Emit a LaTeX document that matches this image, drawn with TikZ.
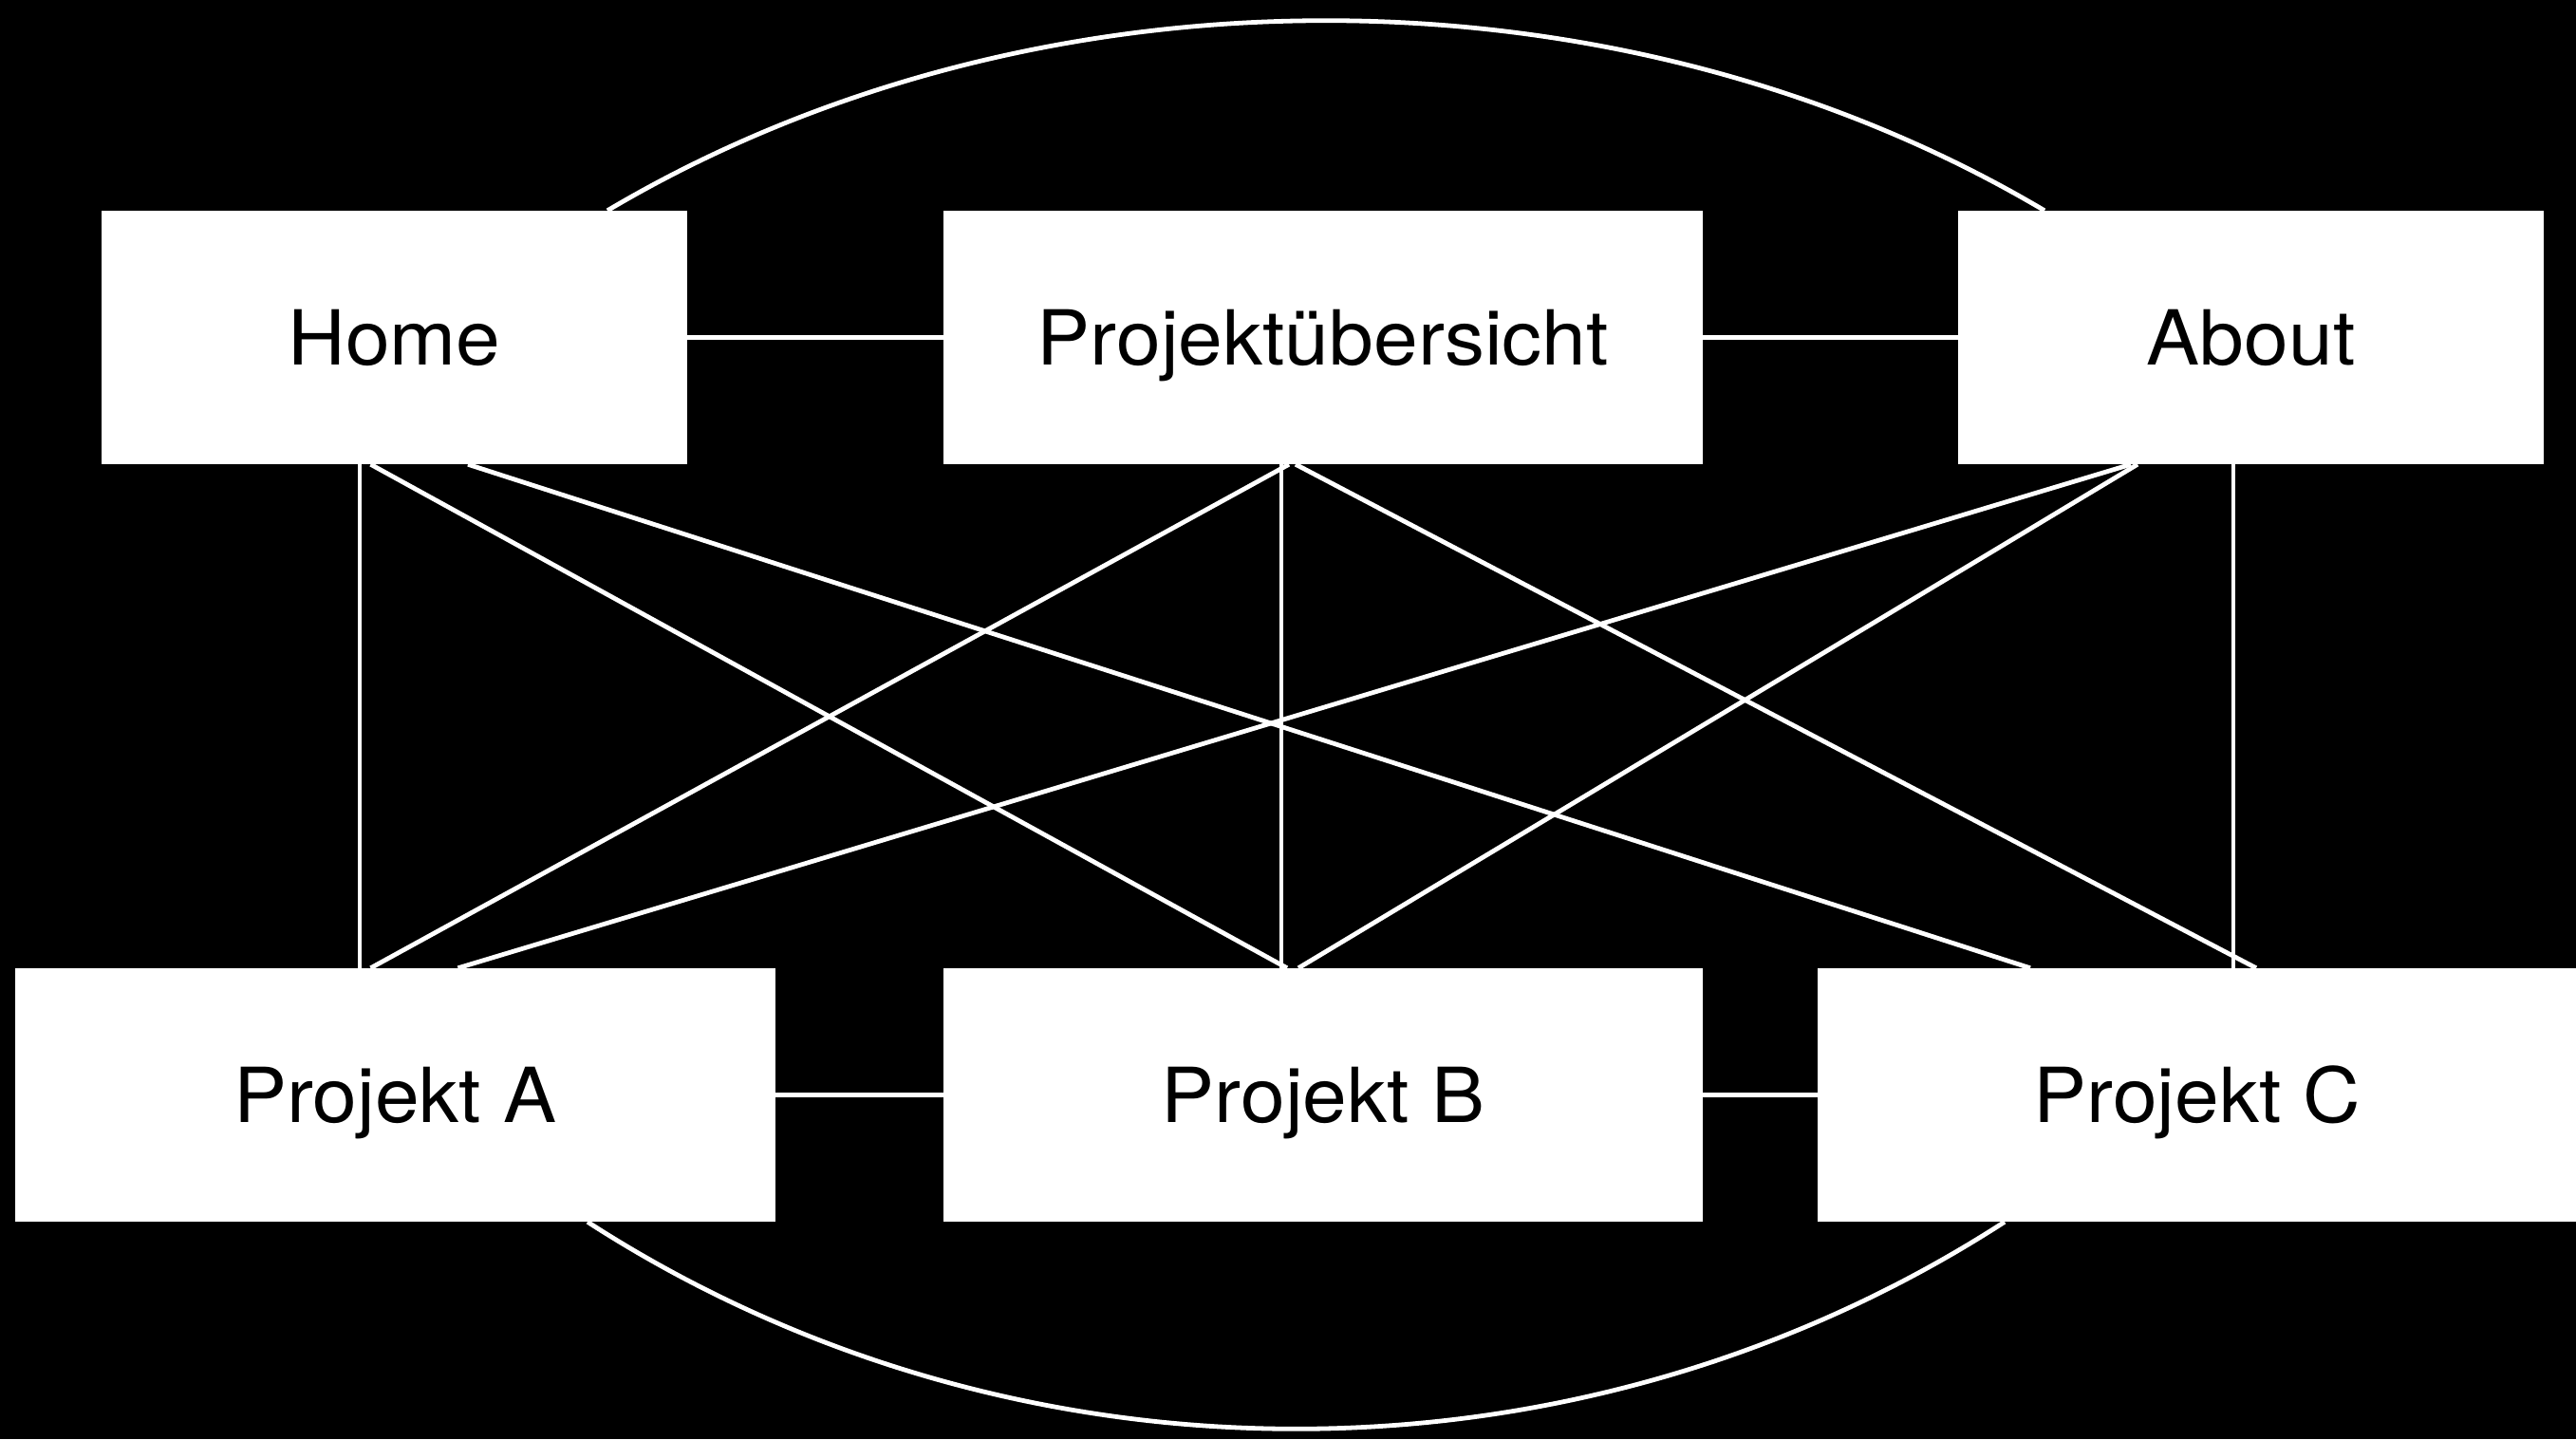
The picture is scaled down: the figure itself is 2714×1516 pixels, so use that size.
\documentclass[tikz,border=0pt]{standalone}
\usepackage{fontspec}
\setmainfont[FakeStretch=1.05]{TeX Gyre Heros}
\begin{document}
\begin{tikzpicture}[x=1pt,y=-1pt,
  page/.style={fill=white, draw=none, inner sep=0pt, minimum height=267pt,
    text height=57.4pt, text depth=0pt, text=black,
    font=\fontsize{80}{96}\selectfont},
  link/.style={draw=white, line width=4.8pt}]
% black canvas
\fill[black] (0,0) rectangle (2714,1516);
\useasboundingbox (0,0) rectangle (2714,1516);

% pages
\node[page, minimum width=617pt] (home) at (415.5,355.5) {Home};
\node[page, minimum width=800pt] (uebersicht) at (1394,355.5) {Projektübersicht};
\node[page, minimum width=617pt] (about) at (2371.5,355.5) {About};
\node[page, minimum width=801pt] (pa) at (416.5,1153.5) {Projekt A};
\node[page, minimum width=800pt] (pb) at (1394,1153.5) {Projekt B};
\node[page, minimum width=800pt] (pc) at (2315,1153.5) {Projekt C};

% neighbours in a row
\draw[link] (home.east) -- (uebersicht.west);
\draw[link] (uebersicht.east) -- (about.west);
\draw[link] (pa.east) -- (pb.west);
\draw[link] (pb.east) -- (pc.west);

% top row to bottom row
\draw[link] ([xshift=-36.5pt]home.south) -- ([xshift=-37.5pt]pa.north);
\draw[link] ([xshift=-25pt]home.south) -- ([xshift=-38pt]pb.north);
\draw[link] ([xshift=77.5pt]home.south) -- ([xshift=-176pt]pc.north);

\draw[link] ([xshift=-36pt]uebersicht.south) -- ([xshift=-26pt]pa.north);
\draw[link] ([xshift=-44pt]uebersicht.south) -- ([xshift=-44pt]pb.north);
\draw[link] ([xshift=-29pt]uebersicht.south) -- ([xshift=62pt]pc.north);

\draw[link] ([xshift=-126.5pt]about.south) -- ([xshift=66pt]pa.north);
\draw[link] ([xshift=-119.5pt]about.south) -- ([xshift=-26pt]pb.north);
\draw[link] ([xshift=-18.5pt]about.south) -- ([xshift=38pt]pc.north);

% outer arcs
\draw[link] ([xshift=224.5pt]home.north) .. controls (1090,-45) and (1704,-45) .. ([xshift=-217.5pt]about.north);
\draw[link] ([xshift=202.5pt]pa.south) .. controls (1069,1578) and (1662,1578) .. ([xshift=-203pt]pc.south);
\end{tikzpicture}
\end{document}
